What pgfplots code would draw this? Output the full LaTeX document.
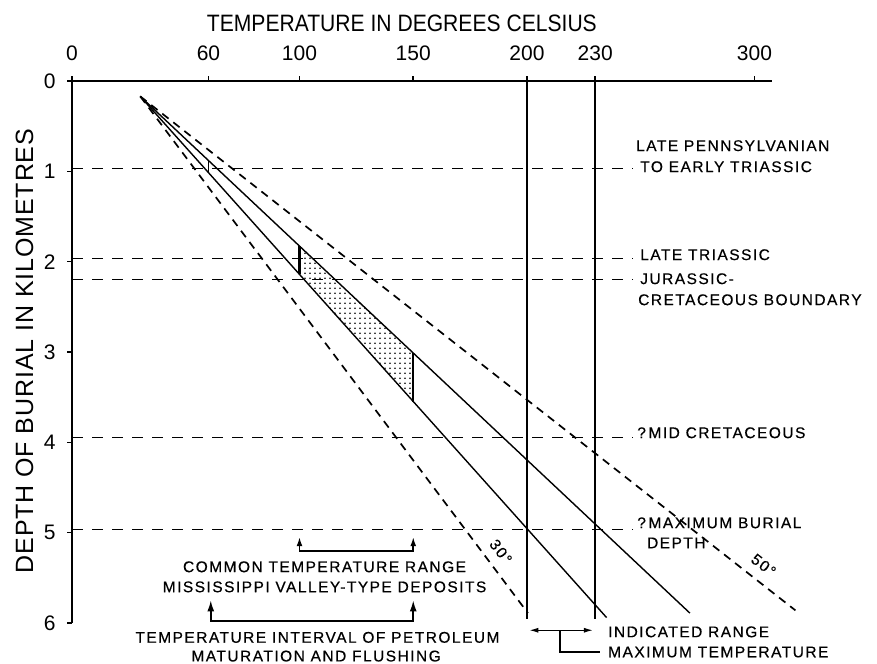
\documentclass[border=0pt]{standalone}
\usepackage{fontspec}
\setmainfont{Liberation Sans}
\newfontfamily\ttlfont[FakeStretch=0.89]{Liberation Sans}
\newfontfamily\labfont[LetterSpace=9.5,FakeBold=0.4]{Liberation Sans}
\newfontfamily\ylabfont[LetterSpace=3.5]{Liberation Sans}
\usepackage{pgfplots}
\pgfplotsset{compat=1.18}
\usetikzlibrary{arrows.meta,patterns.meta}
\begin{document}
\begin{tikzpicture}
\begin{axis}[
  scale only axis, width=700pt, height=542pt,
  xmin=0, xmax=307.7, ymin=0, ymax=6, y dir=reverse,
  axis x line*=top, axis y line*=left,
  axis line style={line width=1.8pt, -},
  xtick={0,60,100,150,200,230,300},
  ytick={0,1,2,3,4,5,6},
  tick align=outside, major tick length=5pt,
  tick style={line width=1.5pt, black},
  /pgf/number format/assume math mode=true,
  ticklabel style={font=\fontsize{21}{21}\selectfont},
  xticklabel style={yshift=12pt},
  yticklabel style={xshift=-8pt},
  clip=false,
]
% horizontal time lines
\addplot[black, line width=1pt, dash pattern=on 11pt off 9pt] coordinates {(0,0.97) (246.6,0.97)};
\addplot[black, line width=1pt, dash pattern=on 11pt off 9pt] coordinates {(0,1.96) (246.6,1.96)};
\addplot[black, line width=1pt, dash pattern=on 11pt off 9pt] coordinates {(0,2.2) (246.6,2.2)};
\addplot[black, line width=1pt, dash pattern=on 11pt off 9pt] coordinates {(0,3.95) (246.6,3.95)};
\addplot[black, line width=1pt, dash pattern=on 11pt off 9pt] coordinates {(0,4.96) (246.6,4.96)};
% vertical max temperature lines
\addplot[black, line width=1.5pt] coordinates {(200,0) (200,5.95)};
\addplot[black, line width=1.5pt] coordinates {(230,0) (230,5.95)};
% shaded interval
\addplot[draw=none, pattern={Dots[distance=5pt,radius=0.8pt]}] coordinates {(100,1.827) (150,3.011) (150,3.55) (100,2.14) (100,1.827)};
\addplot[black, line width=2.2pt] coordinates {(100,1.827) (100,2.14)};
\addplot[black, line width=2.4pt] coordinates {(150,3.011) (150,3.55)};
\addplot[black, line width=1.3pt] coordinates {(60,0.88) (60,1.014)};
% geotherms
\addplot[black, line width=1.7pt, dash pattern=on 8pt off 6pt] coordinates {(30,0.17) (200.4,5.89)};
\addplot[black, line width=1.4pt] coordinates {(30,0.17) (235,5.94)};
\addplot[black, line width=1.4pt] coordinates {(30,0.17) (271.6,5.89)};
\addplot[black, line width=1.7pt, dash pattern=on 8pt off 6pt] coordinates {(30,0.17) (318,5.86)};
% brackets
\draw[black, line width=1.5pt, {Latex[length=9pt,width=6pt]}-{Latex[length=9pt,width=6pt]}] (axis cs:100,5.05) -- (axis cs:100,5.2) -- (axis cs:150,5.2) -- (axis cs:150,5.05);
\draw[black, line width=1.5pt, {Latex[length=11pt,width=7pt]}-{Latex[length=11pt,width=7pt]}] (axis cs:61,5.75) -- (axis cs:61,5.98) -- (axis cs:150,5.98) -- (axis cs:150,5.75);
\draw[black, line width=1.3pt, {Latex[length=9pt,width=5pt]}-{Latex[length=9pt,width=5pt]}] (axis cs:201,6.08) -- (axis cs:229,6.08);
\draw[black, line width=1.3pt] (axis cs:214.5,6.08) -- (axis cs:214.5,6.32) -- (axis cs:232,6.32);
% texts
\node[anchor=base, font=\ttlfont\fontsize{23.7}{24}\selectfont] at (axis cs:145,-0.543) {TEMPERATURE IN DEGREES CELSIUS};
\node[anchor=base, rotate=90, font=\ylabfont\fontsize{25}{25}\selectfont] at (axis cs:-17.14,2.99) {DEPTH OF BURIAL IN KILOMETRES};
\begin{scope}[every node/.style={font=\labfont\fontsize{15.5}{16}\selectfont, inner sep=0pt}]
\node[anchor=base west] at (axis cs:247.9,0.775) {LATE PENNSYLVANIAN};
\node[anchor=base west] at (axis cs:249.7,1.008) {TO EARLY TRIASSIC};
\node[anchor=base west] at (axis cs:249.7,1.982) {LATE TRIASSIC};
\node[anchor=base west] at (axis cs:249.7,2.248) {JURASSIC-};
\node[anchor=base west] at (axis cs:248.8,2.481) {CRETACEOUS BOUNDARY};
\node[anchor=base west] at (axis cs:248.4,3.953) {?\,MID CRETACEOUS};
\node[anchor=base west] at (axis cs:248.4,4.95) {?\,MAXIMUM BURIAL};
\node[anchor=base west] at (axis cs:252.7,5.172) {DEPTH};
\node[anchor=base west] at (axis cs:235.6,6.157) {INDICATED RANGE};
\node[anchor=base west] at (axis cs:235.6,6.379) {MAXIMUM TEMPERATURE};
\node[anchor=base] at (axis cs:111,5.437) {COMMON TEMPERATURE RANGE};
\node[anchor=base] at (axis cs:111,5.659) {MISSISSIPPI VALLEY-TYPE DEPOSITS};
\node[anchor=base] at (axis cs:107.9,6.218) {TEMPERATURE INTERVAL OF PETROLEUM};
\node[anchor=base] at (axis cs:107.3,6.425) {MATURATION AND FLUSHING};
\node[rotate=-53] at (axis cs:188.5,5.21) {30°};
\node[rotate=-38] at (axis cs:304,5.36) {50°};
\end{scope}
\coordinate (bbsw) at (axis cs:-31.65,6.445);
\coordinate (bbne) at (axis cs:353.85,-0.897);
\end{axis}
\pgfresetboundingbox
\path[use as bounding box] (bbsw) rectangle (bbne);
\end{tikzpicture}
\end{document}
